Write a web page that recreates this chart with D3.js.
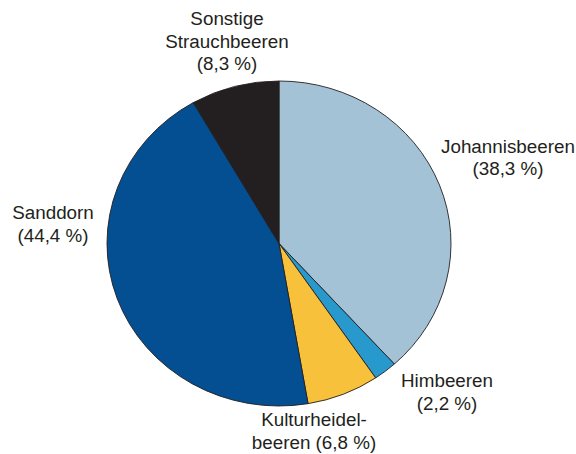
<!DOCTYPE html>
<html>
<head>
<meta charset="utf-8">
<script src="https://cdn.jsdelivr.net/npm/d3@7"></script>
<style>
    html, body { margin: 0; padding: 0; background: #fff; }
    svg { display: block; }
    text { font-family: "Liberation Sans", Arial, Helvetica, sans-serif; fill: #231f20; }
</style>
</head>
<body>
<svg class="pie" width="576" height="454"></svg>
<script>
    'use strict'

    // data, clockwise from 12 o'clock
    const categories = ['Johannisbeeren', 'Himbeeren', 'Kulturheidelbeeren', 'Sanddorn', 'Sonstige Strauchbeeren'];
    const shares = [38.3, 2.2, 6.8, 44.4, 8.3];
    const labelLines = [
        ['Johannisbeeren', '(38,3 %)'],
        ['Himbeeren', '(2,2 %)'],
        ['Kulturheidel-', 'beeren (6,8 %)'],
        ['Sanddorn', '(44,4 %)'],
        ['Sonstige', 'Strauchbeeren', '(8,3 %)']
    ];
    const colors = ['#a4c2d6', '#2899cd', '#f8c13c', '#034f91', '#231f20'];

    // layout
    const cx = 279, cy = 243.5, rx = 172, ry = 162.5;
    const labelAt = [
        { x: 508, y: 152.5 },
        { x: 447, y: 387 },
        { x: 314, y: 426 },
        { x: 53, y: 219 },
        { x: 227, y: 25 }
    ];
    const lineHeight = 22.7;

    const svg = d3.select('svg.pie');

    const pie = d3.pie().sort(null).value((d) => d.value);
    const arc = d3.arc().innerRadius(0).outerRadius(ry);

    const rows = categories.map((c, i) => ({ name: c, value: shares[i], color: colors[i] }));

    const g = svg.append('g')
        .attr('transform', 'translate(' + cx + ',' + cy + ') scale(' + (rx / ry) + ',1)');

    g.selectAll('path')
        .data(pie(rows))
        .enter().append('path')
        .attr('d', arc)
        .attr('fill', (d) => d.data.color)
        .attr('stroke', '#231f20')
        .attr('stroke-width', 0.9)
        .attr('stroke-linejoin', 'round')
        .attr('vector-effect', 'non-scaling-stroke');

    // labels are slightly stretched horizontally like the pie
    const labels = svg.selectAll('g.label')
        .data(labelLines)
        .enter().append('g')
        .attr('class', 'label')
        .attr('transform', (d, i) => 'translate(' + labelAt[i].x + ',' + labelAt[i].y + ') scale(1.07,1)');

    labels.selectAll('text')
        .data((d) => d)
        .enter().append('text')
        .attr('text-anchor', 'middle')
        .attr('y', (d, j) => j * lineHeight)
        .style('font-size', '17.6px')
        .text((d) => d);
</script>
</body>
</html>
